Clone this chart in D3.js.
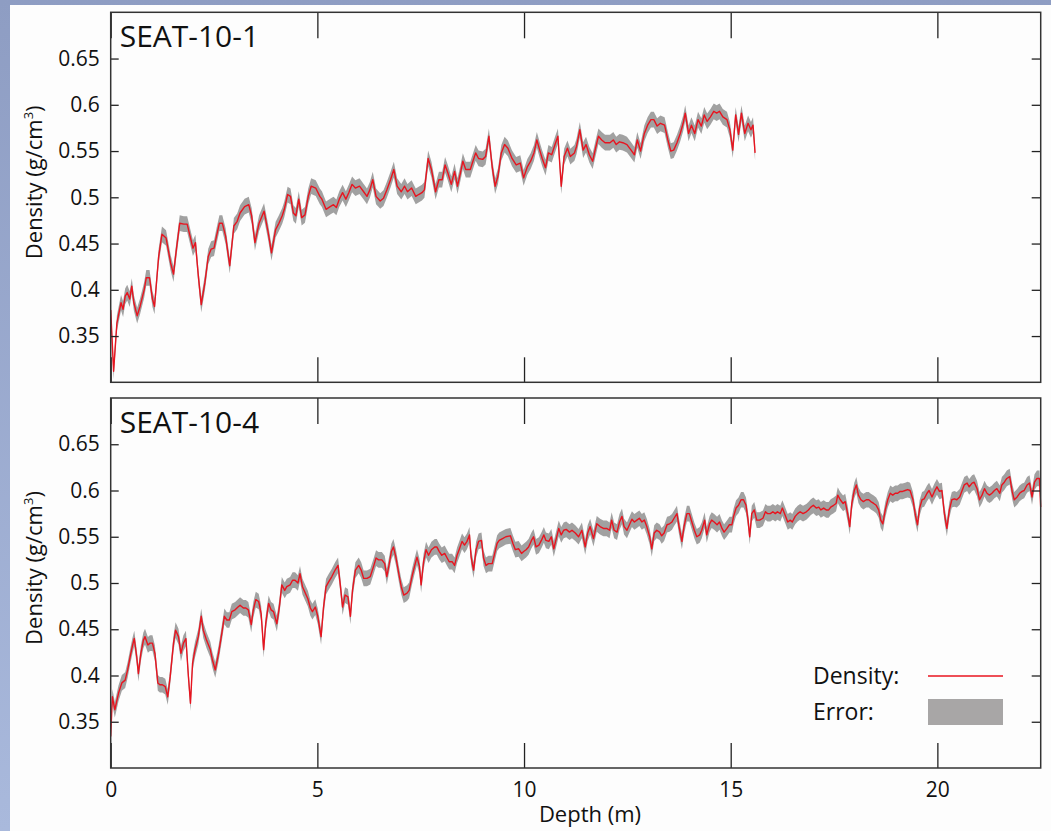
<!DOCTYPE html>
<html>
<head>
<meta charset="utf-8">
<script src="https://cdn.jsdelivr.net/npm/d3@7"></script>
<style>
  html, body { margin: 0; padding: 0; }
  body { width: 1051px; height: 831px; overflow: hidden; }
  svg text { font-family: "Open Sans", "Noto Sans", sans-serif; fill: #111; }
</style>
</head>
<body>
<div id="chart"></div>
<script>
// SEAT-10-1 core: depth (m) and density (g/cm3)
const depth1 = [0.00,0.07,0.15,0.25,0.30,0.35,0.40,0.46,0.51,0.56,0.64,0.71,0.81,0.86,0.94,1.01,1.06,1.16,1.24,1.34,1.45,1.52,1.59,1.67,1.77,1.85,1.92,1.99,2.05,2.12,2.19,2.28,2.36,2.43,2.50,2.56,2.63,2.70,2.78,2.88,2.98,3.06,3.13,3.24,3.34,3.41,3.49,3.59,3.71,3.81,3.89,3.99,4.07,4.15,4.20,4.28,4.35,4.42,4.48,4.55,4.62,4.70,4.78,4.85,4.96,5.06,5.11,5.21,5.31,5.39,5.46,5.53,5.61,5.69,5.76,5.84,5.92,6.02,6.12,6.20,6.27,6.34,6.42,6.52,6.60,6.68,6.77,6.85,6.93,7.03,7.11,7.18,7.28,7.38,7.45,7.53,7.59,7.68,7.76,7.86,7.94,8.02,8.09,8.16,8.24,8.32,8.39,8.46,8.52,8.59,8.70,8.75,8.83,8.90,9.00,9.07,9.15,9.23,9.30,9.37,9.45,9.53,9.61,9.71,9.81,9.91,9.99,10.08,10.16,10.24,10.31,10.38,10.44,10.52,10.59,10.67,10.75,10.82,10.90,10.97,11.05,11.12,11.22,11.27,11.35,11.43,11.50,11.58,11.66,11.73,11.80,11.88,11.96,12.08,12.16,12.23,12.31,12.39,12.49,12.59,12.67,12.74,12.82,12.91,12.99,13.07,13.14,13.22,13.30,13.40,13.48,13.55,13.62,13.70,13.78,13.85,13.90,13.98,14.05,14.13,14.21,14.29,14.36,14.43,14.51,14.59,14.66,14.73,14.81,14.91,14.98,15.05,15.12,15.19,15.26,15.34,15.42,15.49,15.54,15.59];
const density1 = [0.378,0.312,0.364,0.386,0.379,0.393,0.397,0.390,0.404,0.386,0.372,0.382,0.400,0.413,0.413,0.390,0.382,0.436,0.460,0.456,0.429,0.417,0.444,0.472,0.471,0.471,0.458,0.445,0.451,0.415,0.384,0.408,0.436,0.444,0.445,0.458,0.472,0.472,0.458,0.426,0.469,0.474,0.483,0.490,0.492,0.480,0.451,0.472,0.485,0.462,0.440,0.465,0.472,0.480,0.487,0.503,0.501,0.483,0.480,0.498,0.478,0.481,0.501,0.512,0.510,0.501,0.498,0.487,0.490,0.492,0.489,0.498,0.505,0.498,0.505,0.514,0.510,0.512,0.506,0.501,0.508,0.519,0.501,0.496,0.499,0.508,0.519,0.530,0.512,0.506,0.512,0.506,0.510,0.501,0.503,0.505,0.508,0.542,0.530,0.506,0.519,0.519,0.535,0.526,0.514,0.528,0.512,0.526,0.539,0.530,0.530,0.537,0.548,0.542,0.541,0.544,0.566,0.533,0.512,0.523,0.548,0.557,0.553,0.542,0.535,0.537,0.521,0.533,0.539,0.548,0.562,0.551,0.542,0.532,0.548,0.546,0.557,0.566,0.512,0.544,0.553,0.544,0.548,0.555,0.573,0.551,0.557,0.546,0.539,0.553,0.566,0.562,0.559,0.559,0.562,0.557,0.560,0.559,0.557,0.551,0.546,0.562,0.550,0.569,0.578,0.584,0.584,0.577,0.580,0.578,0.562,0.550,0.551,0.559,0.569,0.580,0.591,0.569,0.578,0.569,0.584,0.577,0.589,0.582,0.587,0.593,0.591,0.593,0.587,0.584,0.573,0.551,0.589,0.568,0.591,0.569,0.580,0.573,0.578,0.548];

// SEAT-10-4 core
const depth4 = [0.00,0.04,0.10,0.19,0.27,0.35,0.41,0.47,0.52,0.57,0.63,0.67,0.73,0.79,0.83,0.90,0.95,1.01,1.07,1.14,1.19,1.25,1.32,1.38,1.44,1.52,1.57,1.64,1.70,1.76,1.82,1.88,1.93,1.98,2.04,2.12,2.19,2.24,2.32,2.41,2.46,2.53,2.61,2.69,2.75,2.81,2.87,2.93,3.01,3.08,3.13,3.21,3.27,3.33,3.40,3.45,3.51,3.58,3.64,3.70,3.75,3.82,3.88,3.94,4.02,4.08,4.14,4.21,4.26,4.34,4.40,4.46,4.53,4.58,4.64,4.71,4.77,4.83,4.88,4.95,5.01,5.09,5.15,5.21,5.27,5.35,5.43,5.50,5.55,5.61,5.67,5.74,5.80,5.85,5.92,6.00,6.06,6.12,6.20,6.28,6.36,6.42,6.48,6.56,6.63,6.68,6.74,6.79,6.84,6.90,6.97,7.03,7.09,7.17,7.22,7.29,7.35,7.41,7.47,7.51,7.57,7.63,7.69,7.76,7.84,7.89,7.95,8.01,8.08,8.14,8.19,8.26,8.32,8.38,8.43,8.50,8.56,8.62,8.68,8.72,8.78,8.84,8.90,8.97,9.02,9.08,9.14,9.23,9.29,9.35,9.40,9.48,9.56,9.67,9.73,9.79,9.87,9.94,9.99,10.05,10.11,10.18,10.23,10.29,10.36,10.42,10.48,10.53,10.60,10.66,10.72,10.77,10.84,10.90,10.96,11.02,11.10,11.16,11.24,11.32,11.40,11.48,11.54,11.60,11.68,11.76,11.84,11.92,12.00,12.07,12.12,12.18,12.25,12.31,12.37,12.42,12.49,12.55,12.61,12.67,12.73,12.79,12.85,12.91,12.97,13.04,13.09,13.15,13.21,13.28,13.33,13.39,13.46,13.52,13.58,13.63,13.70,13.75,13.82,13.87,13.94,14.00,14.06,14.12,14.18,14.25,14.30,14.37,14.42,14.49,14.54,14.60,14.67,14.73,14.79,14.84,14.91,14.97,15.03,15.07,15.13,15.19,15.25,15.31,15.37,15.42,15.46,15.51,15.57,15.63,15.70,15.78,15.84,15.89,15.96,16.02,16.08,16.13,16.20,16.25,16.32,16.38,16.44,16.49,16.56,16.62,16.68,16.75,16.83,16.88,16.94,17.00,17.07,17.13,17.18,17.25,17.31,17.37,17.42,17.49,17.55,17.59,17.65,17.72,17.77,17.83,17.88,17.93,17.99,18.04,18.09,18.15,18.21,18.28,18.34,18.39,18.46,18.52,18.58,18.63,18.68,18.74,18.80,18.86,18.92,18.98,19.04,19.10,19.16,19.22,19.28,19.34,19.41,19.47,19.52,19.57,19.63,19.68,19.75,19.80,19.87,19.93,19.99,20.05,20.11,20.17,20.23,20.29,20.35,20.41,20.47,20.54,20.59,20.65,20.72,20.77,20.84,20.89,20.96,21.02,21.08,21.14,21.20,21.26,21.32,21.38,21.44,21.51,21.56,21.62,21.68,21.75,21.81,21.86,21.93,21.99,22.05,22.10,22.17,22.23,22.29,22.35,22.41,22.47,22.50];
const density4 = [0.334,0.377,0.363,0.381,0.392,0.395,0.406,0.420,0.431,0.440,0.420,0.402,0.424,0.438,0.442,0.433,0.435,0.435,0.424,0.392,0.390,0.390,0.388,0.377,0.399,0.435,0.449,0.442,0.424,0.435,0.440,0.399,0.370,0.413,0.428,0.442,0.464,0.449,0.438,0.428,0.417,0.406,0.424,0.446,0.464,0.460,0.460,0.469,0.471,0.474,0.476,0.473,0.473,0.471,0.455,0.471,0.482,0.480,0.467,0.428,0.456,0.478,0.471,0.469,0.456,0.474,0.498,0.492,0.496,0.498,0.503,0.503,0.500,0.510,0.496,0.489,0.483,0.473,0.469,0.474,0.464,0.442,0.474,0.496,0.501,0.507,0.514,0.519,0.500,0.474,0.487,0.485,0.464,0.492,0.514,0.519,0.514,0.505,0.505,0.507,0.518,0.527,0.525,0.525,0.521,0.507,0.521,0.534,0.539,0.528,0.510,0.496,0.487,0.489,0.492,0.507,0.518,0.528,0.518,0.498,0.523,0.536,0.530,0.536,0.539,0.539,0.534,0.530,0.532,0.527,0.523,0.523,0.519,0.530,0.536,0.545,0.541,0.545,0.552,0.528,0.514,0.536,0.545,0.546,0.527,0.519,0.521,0.521,0.532,0.543,0.546,0.548,0.550,0.551,0.543,0.536,0.537,0.532,0.534,0.536,0.539,0.546,0.550,0.539,0.541,0.546,0.552,0.546,0.545,0.550,0.537,0.546,0.559,0.552,0.557,0.558,0.555,0.557,0.554,0.550,0.557,0.539,0.554,0.561,0.548,0.564,0.561,0.559,0.559,0.557,0.568,0.557,0.555,0.566,0.572,0.561,0.557,0.563,0.569,0.566,0.568,0.570,0.566,0.568,0.561,0.550,0.537,0.554,0.557,0.555,0.551,0.554,0.563,0.564,0.566,0.570,0.575,0.561,0.545,0.561,0.575,0.575,0.566,0.557,0.550,0.552,0.557,0.568,0.552,0.564,0.568,0.566,0.563,0.566,0.559,0.555,0.559,0.563,0.563,0.572,0.581,0.584,0.590,0.590,0.584,0.568,0.550,0.575,0.579,0.568,0.568,0.570,0.577,0.575,0.575,0.577,0.575,0.577,0.575,0.581,0.573,0.566,0.568,0.566,0.572,0.575,0.577,0.575,0.577,0.579,0.582,0.584,0.581,0.582,0.579,0.581,0.579,0.579,0.582,0.584,0.586,0.595,0.590,0.586,0.588,0.575,0.561,0.586,0.600,0.606,0.595,0.590,0.588,0.590,0.590,0.588,0.586,0.584,0.579,0.568,0.564,0.579,0.590,0.597,0.595,0.597,0.597,0.599,0.599,0.600,0.601,0.600,0.590,0.573,0.563,0.581,0.590,0.591,0.597,0.600,0.593,0.599,0.604,0.599,0.600,0.575,0.559,0.579,0.590,0.591,0.590,0.593,0.599,0.606,0.608,0.604,0.608,0.609,0.602,0.590,0.595,0.602,0.597,0.595,0.597,0.600,0.602,0.597,0.606,0.609,0.613,0.615,0.599,0.590,0.593,0.597,0.599,0.600,0.606,0.608,0.593,0.609,0.613,0.613,0.582];

// half-width of the error band (g/cm3)
const error1 = 0.0085;
const error4 = 0.0085;

const cores = ["SEAT-10-1", "SEAT-10-4"];
const xTicks = [0, 5, 10, 15, 20];
const yTicks = [0.35, 0.4, 0.45, 0.5, 0.55, 0.6, 0.65];
const legendLabels = ["Density:", "Error:"];

const W = 1051, H = 831;
const left = 110.7, right = 1040.7;
const panels = [
  { name: cores[0], top: 12.3, bottom: 382.3, depth: depth1, density: density1, err: error1, labels: false },
  { name: cores[1], top: 398, bottom: 768, depth: depth4, density: density4, err: error4, labels: true }
];

const svg = d3.select("#chart").append("svg")
  .attr("width", W)
  .attr("height", H);

// blue slide background with white sheet
const defs = svg.append("defs");
const bg = defs.append("linearGradient")
  .attr("id", "bg-grad")
  .attr("x1", "0%").attr("y1", "0%")
  .attr("x2", "0%").attr("y2", "100%");
bg.append("stop").attr("offset", "0%").attr("stop-color", "#8e9dc3");
bg.append("stop").attr("offset", "100%").attr("stop-color", "#a9b9dc");

// soft edge for the error band
defs.append("filter").attr("id", "soft")
  .append("feGaussianBlur").attr("stdDeviation", 0.6);

svg.append("rect").attr("width", W).attr("height", H).attr("fill", "url(#bg-grad)");
svg.append("rect").attr("x", 10).attr("y", 5).attr("width", W - 10).attr("height", H - 5).attr("fill", "#fdfdfd");

const x = d3.scaleLinear().domain([0, 22.5]).range([left, right]);

panels.forEach(p => {
  const y = d3.scaleLinear().domain([0.3, 0.7]).range([p.bottom, p.top]);
  const data = p.depth.map((d, i) => ({ depth: d, density: p.density[i] }));

  const g = svg.append("g");

  // error band
  g.append("path")
    .datum(data)
    .attr("fill", "#979797")
    .attr("fill-opacity", 0.9)
    .attr("filter", "url(#soft)")
    .attr("d", d3.area()
      .x(d => x(d.depth))
      .y0(d => y(d.density - p.err))
      .y1(d => y(d.density + p.err)));

  // density line
  g.append("path")
    .datum(data)
    .attr("fill", "none")
    .attr("stroke", "#e8141f")
    .attr("stroke-width", 1.4)
    .attr("stroke-linejoin", "round")
    .attr("d", d3.line()
      .x(d => x(d.depth))
      .y(d => y(d.density)));

  // axes, ticks pointing inward
  g.append("g")
    .attr("transform", `translate(0,${p.bottom})`)
    .call(d3.axisBottom(x).tickValues(xTicks).tickSize(-25).tickPadding(14)
      .tickFormat(p.labels ? d3.format("d") : ""));
  g.append("g")
    .attr("transform", `translate(0,${p.top})`)
    .call(d3.axisTop(x).tickValues(xTicks).tickSize(-26).tickFormat(""));
  g.append("g")
    .attr("transform", `translate(${left},0)`)
    .call(d3.axisLeft(y).tickValues(yTicks).tickSize(-8).tickPadding(11)
      .tickFormat(d => String(+d.toFixed(2))));
  g.append("g")
    .attr("transform", `translate(${right},0)`)
    .call(d3.axisRight(y).tickValues(yTicks).tickSize(-9).tickFormat(""));

  g.selectAll(".domain").remove();
  g.selectAll(".tick line").attr("stroke", "#222").attr("stroke-width", 1.3);
  g.selectAll(".tick text")
    .attr("fill", "#111")
    .style("font-size", "21px")
    .style("font-family", '"Open Sans", sans-serif');

  // frame
  g.append("rect")
    .attr("x", left).attr("y", p.top)
    .attr("width", right - left).attr("height", p.bottom - p.top)
    .attr("fill", "none")
    .attr("stroke", "#333")
    .attr("stroke-width", 1.5);

  // core name
  g.append("text")
    .attr("x", left + 9)
    .attr("y", p.top + 35)
    .style("font-size", "30px")
    .text(p.name);

  // y axis title
  const yt = g.append("text")
    .attr("transform", `translate(42,${(p.top + p.bottom) / 2 - 15}) rotate(-90)`)
    .attr("text-anchor", "middle")
    .style("font-size", "22px");
  yt.append("tspan").text("Density (g/cm");
  yt.append("tspan").attr("dy", -9).style("font-size", "13px").text("3");
  yt.append("tspan").attr("dy", 9).text(")");
});

// x axis title
svg.append("text")
  .attr("x", 590)
  .attr("y", 822)
  .attr("text-anchor", "middle")
  .style("font-size", "22px")
  .text("Depth (m)");

// legend
const legend = svg.append("g");
legend.append("text").attr("x", 813).attr("y", 684).style("font-size", "23px").text(legendLabels[0]);
legend.append("text").attr("x", 813).attr("y", 720).style("font-size", "23px").text(legendLabels[1]);
legend.append("line")
  .attr("x1", 928).attr("x2", 1003).attr("y1", 676).attr("y2", 676)
  .attr("stroke", "#e8141f").attr("stroke-width", 1.4);
legend.append("rect")
  .attr("x", 928).attr("y", 699).attr("width", 75).attr("height", 26)
  .attr("fill", "#a8a6a6");
</script>
</body>
</html>
